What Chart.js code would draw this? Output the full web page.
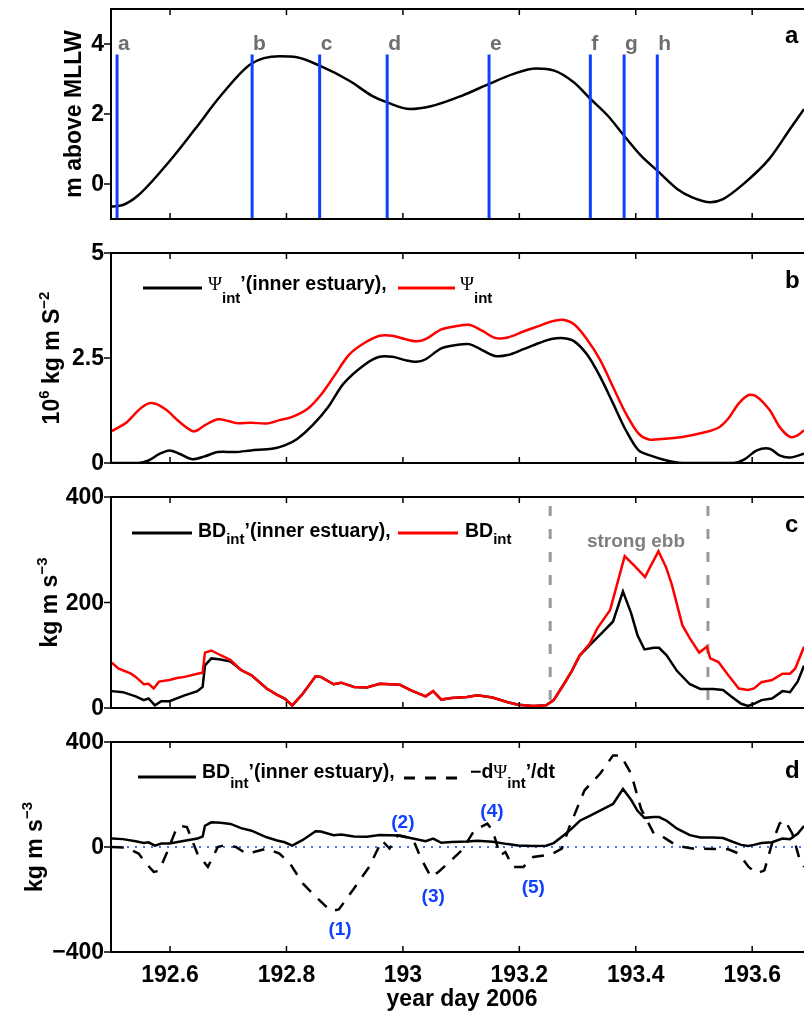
<!DOCTYPE html>
<html>
<head>
<meta charset="utf-8">
<script src="https://cdn.jsdelivr.net/npm/chart.js@4.4.1/dist/chart.umd.min.js"></script>
<style>
  html, body { margin: 0; padding: 0; background: #fff; }
  #wrap { position: relative; width: 804px; height: 1013px; overflow: hidden; }
  #wrap canvas { position: absolute; left: 0; top: 0; }
</style>
</head>
<body>
<div id="wrap">
  <canvas id="panel-a" width="804" height="1013"></canvas>
  <canvas id="panel-b" width="804" height="1013"></canvas>
  <canvas id="panel-c" width="804" height="1013"></canvas>
  <canvas id="panel-d" width="804" height="1013"></canvas>
</div>
<script>
// Shared time axis (year day 2006)
const dayMin = 192.4986;
const dayMax = 193.689;
const dayTicks = [192.6, 192.8, 193, 193.2, 193.4, 193.6];
const dayTickLabels = ['192.6', '192.8', '193', '193.2', '193.4', '193.6'];

// (a) water level, m above MLLW
const tideDay = [192.500, 192.519, 192.545, 192.598, 192.643, 192.687, 192.739, 192.788, 192.818, 192.857,
  192.908, 192.947, 192.973, 193.012, 193.048, 193.101, 193.148, 193.189, 193.229, 193.260,
  193.294, 193.321, 193.352, 193.380, 193.409, 193.437, 193.471, 193.497, 193.528, 193.550,
  193.585, 193.629, 193.665, 193.689];
const tideLevel = [-0.64, -0.60, -0.33, 0.63, 1.57, 2.52, 3.43, 3.65, 3.62, 3.38,
  2.95, 2.52, 2.33, 2.14, 2.22, 2.52, 2.86, 3.14, 3.30, 3.24,
  2.90, 2.45, 1.95, 1.38, 0.81, 0.38, -0.14, -0.38, -0.52, -0.43,
  0.00, 0.71, 1.57, 2.14];
const markDay = [192.509, 192.741, 192.857, 192.973, 193.148, 193.322, 193.380, 193.437];
const markLabels = ['a', 'b', 'c', 'd', 'e', 'f', 'g', 'h'];
const markTop = 3.7;
const levelTicks = [0, 2, 4];
const levelTickLabels = ['0', '2', '4'];

// (b) integrated potential energy anomaly, 10^6 kg m s^-2
const psiTotalDay = [192.500, 192.524, 192.546, 192.563, 192.577, 192.594, 192.616, 192.638, 192.647, 192.660,
  192.682, 192.700, 192.713, 192.739, 192.766, 192.788, 192.810, 192.837, 192.859, 192.881,
  192.907, 192.933, 192.960, 192.982, 193.004, 193.023, 193.039, 193.066, 193.092, 193.114,
  193.136, 193.158, 193.180, 193.207, 193.233, 193.255, 193.275, 193.295, 193.317, 193.339,
  193.361, 193.383, 193.405, 193.423, 193.445, 193.480, 193.515, 193.542, 193.559, 193.577,
  193.594, 193.608, 193.630, 193.647, 193.665, 193.678, 193.689];
const psiTotal = [0.76, 0.95, 1.26, 1.42, 1.40, 1.26, 0.98, 0.76, 0.78, 0.90,
  1.04, 1.00, 0.95, 0.96, 0.94, 1.02, 1.10, 1.30, 1.62, 2.05,
  2.57, 2.85, 3.03, 3.03, 2.95, 2.90, 2.95, 3.18, 3.26, 3.29,
  3.15, 2.98, 2.99, 3.13, 3.26, 3.37, 3.41, 3.29, 2.93, 2.45,
  1.81, 1.18, 0.70, 0.56, 0.57, 0.62, 0.72, 0.84, 1.06, 1.42,
  1.62, 1.58, 1.26, 0.86, 0.62, 0.66, 0.78];
const psiInnerDay = [192.500, 192.546, 192.563, 192.581, 192.599, 192.616, 192.638, 192.660, 192.682, 192.713,
  192.739, 192.775, 192.797, 192.819, 192.845, 192.872, 192.898, 192.933, 192.960, 192.982,
  193.004, 193.023, 193.039, 193.066, 193.092, 193.114, 193.136, 193.158, 193.180, 193.207,
  193.233, 193.255, 193.277, 193.295, 193.317, 193.339, 193.361, 193.383, 193.405, 193.427,
  193.453, 193.480, 193.568, 193.586, 193.608, 193.630, 193.647, 193.665, 193.689];
const psiInner = [0.00, 0.00, 0.06, 0.21, 0.30, 0.22, 0.09, 0.16, 0.26, 0.26,
  0.30, 0.34, 0.42, 0.58, 0.90, 1.34, 1.89, 2.33, 2.53, 2.53,
  2.45, 2.41, 2.47, 2.73, 2.81, 2.83, 2.69, 2.55, 2.57, 2.71,
  2.85, 2.95, 2.97, 2.89, 2.57, 2.05, 1.42, 0.78, 0.30, 0.17,
  0.06, 0.00, 0.00, 0.08, 0.30, 0.34, 0.18, 0.13, 0.22];
const psiTicks = [0, 2.5, 5];
const psiTickLabels = ['0', '2.5', '5'];

// (c) buoyancy destruction, kg m s^-3
const bdTotalDay = [192.500, 192.511, 192.533, 192.541, 192.555, 192.563, 192.572, 192.581, 192.599, 192.612,
  192.625, 192.647, 192.656, 192.660, 192.671, 192.687, 192.704, 192.722, 192.740, 192.766,
  192.784, 192.797, 192.810, 192.828, 192.850, 192.859, 192.881, 192.894, 192.916, 192.938,
  192.960, 192.995, 193.013, 193.039, 193.052, 193.066, 193.083, 193.110, 193.128, 193.154,
  193.180, 193.198, 193.224, 193.246, 193.259, 193.277, 193.290, 193.304, 193.321, 193.334,
  193.356, 193.381, 193.400, 193.416, 193.425, 193.439, 193.452, 193.462, 193.480, 193.493,
  193.509, 193.522, 193.528, 193.542, 193.559, 193.577, 193.593, 193.603, 193.616, 193.634,
  193.652, 193.665, 193.674, 193.689];
const bdTotal = [86, 75, 65, 59, 45, 46, 37, 50, 53, 57,
  59, 65, 67, 105, 109, 100, 91, 72, 62, 37,
  25, 18, 5, 27, 60, 59, 45, 48, 40, 39,
  46, 44, 34, 22, 32, 16, 19, 21, 24, 20,
  11, 6, 4, 5, 15, 46, 70, 100, 122, 151,
  186, 288, 267, 248, 268, 297, 267, 234, 157, 132,
  105, 116, 94, 87, 62, 37, 34, 37, 49, 53,
  65, 65, 75, 116];
const bdInnerDay = [192.500, 192.519, 192.541, 192.555, 192.563, 192.574, 192.585, 192.599, 192.625, 192.647,
  192.656, 192.660, 192.671, 192.687, 192.704, 192.722, 192.740, 192.766, 192.784, 192.797,
  192.810, 192.828, 192.850, 192.859, 192.881, 192.894, 192.916, 192.938, 192.960, 192.995,
  193.013, 193.039, 193.052, 193.066, 193.083, 193.110, 193.128, 193.154, 193.180, 193.198,
  193.224, 193.246, 193.259, 193.277, 193.290, 193.304, 193.321, 193.347, 193.361, 193.378,
  193.392, 193.403, 193.415, 193.431, 193.440, 193.453, 193.471, 193.493, 193.511, 193.533,
  193.550, 193.564, 193.581, 193.593, 193.603, 193.616, 193.634, 193.652, 193.665, 193.678,
  193.689];
const bdInner = [32, 30, 22, 15, 18, 5, 13, 13, 24, 32,
  40, 81, 94, 92, 88, 72, 62, 37, 25, 18,
  5, 27, 60, 59, 45, 48, 40, 39, 46, 44,
  34, 22, 32, 16, 19, 21, 24, 20, 11, 6,
  4, 5, 15, 46, 70, 100, 119, 148, 164, 221,
  180, 138, 111, 114, 114, 100, 70, 45, 36, 36,
  34, 22, 8, 4, 8, 15, 18, 32, 30, 50,
  80];
const ebbDay = [193.253, 193.524];
const ebbTop = 383;
const bdTicks = [0, 200, 400];
const bdTickLabels = ['0', '200', '400'];

// (d) -dPsi'/dt against BD', kg m s^-3
const dpsiDay = [192.500, 192.524, 192.546, 192.559, 192.572, 192.581, 192.594, 192.612, 192.621, 192.629,
  192.647, 192.665, 192.682, 192.696, 192.713, 192.731, 192.744, 192.766, 192.788, 192.806,
  192.828, 192.854, 192.876, 192.890, 192.916, 192.942, 192.964, 192.977, 192.991, 193.004,
  193.017, 193.030, 193.048, 193.061, 193.083, 193.101, 193.123, 193.145, 193.154, 193.167,
  193.176, 193.189, 193.207, 193.224, 193.242, 193.259, 193.273, 193.286, 193.312, 193.339,
  193.361, 193.374, 193.392, 193.409, 193.431, 193.445, 193.471, 193.497, 193.559, 193.577,
  193.594, 193.608, 193.621, 193.634, 193.647, 193.656, 193.669, 193.682, 193.689];
const dpsi = [0, -2, -25, -63, -95, -91, -25, 76, 79, 76,
  -25, -76, 0, 8, 0, -25, -19, -6, -25, -63,
  -139, -197, -244, -238, -158, -76, 25, -6, 44, 38,
  32, -38, -114, -95, -51, -13, 64, 89, 64, -32,
  -19, -76, -76, -38, -32, -23, -6, 76, 216, 280,
  349, 349, 280, 146, 51, 41, 4, -6, -9, -25,
  -76, -101, -89, 13, 89, 102, 51, -51, -76];
const eventLabels = ['(1)', '(2)', '(3)', '(4)', '(5)'];
const eventDay = [192.892, 193.000, 193.052, 193.153, 193.224];
const eventValue = [-317, 94, -188, 134, -157];
const balanceTicks = [-400, 0, 400];
const balanceTickLabels = ['\u2212400', '0', '400'];

// Fonts
const SANS = '"Liberation Sans", Arial, Helvetica, sans-serif';
const TICK_FONT = `bold 23px ${SANS}`;
const TITLE_FONT = `bold 23px ${SANS}`;
const SUPER_FONT = `bold 15px ${SANS}`;
const LEG_FONT = `bold 19.5px ${SANS}`;
const SUB_FONT = `bold 15px ${SANS}`;
const GREEK_FONT = '19px "Liberation Serif", "DejaVu Serif", serif';
const LETTER_FONT = `bold 24px ${SANS}`;
const MARK_FONT = `bold 21px ${SANS}`;
const NOTE_FONT = `bold 19px ${SANS}`;

const BLUE = '#1040ff';
const RED = '#ff0000';

function pts(xs, ys) {
  return xs.map((x, i) => ({ x, y: ys[i] }));
}

function richWidth(ctx, parts) {
  let w = 0;
  parts.forEach(p => {
    ctx.font = p.f;
    w += ctx.measureText(p.t).width;
  });
  return w;
}

function drawRich(ctx, parts, x, y) {
  let cx = x;
  parts.forEach(p => {
    ctx.font = p.f;
    ctx.fillText(p.t, cx, y + (p.dy || 0));
    cx += ctx.measureText(p.t).width;
  });
}

// Per-panel furniture: ticks, titles, legends, notes
const panelSetup = {
  'panel-a': {
    top: 9, bottom: 219, yMin: -1, yMax: 5,
    yTicks: levelTicks, yTickLabels: levelTickLabels,
    title: [{ t: 'm above MLLW', f: TITLE_FONT }], titleX: 81,
    letter: 'a', letterY: 43
  },
  'panel-b': {
    top: 253, bottom: 463, yMin: 0, yMax: 5,
    yTicks: psiTicks, yTickLabels: psiTickLabels,
    title: [
      { t: '10', f: TITLE_FONT }, { t: '6', f: SUPER_FONT, dy: -10 },
      { t: ' kg m S', f: TITLE_FONT }, { t: '\u22122', f: SUPER_FONT, dy: -10 }
    ], titleX: 59,
    letter: 'b', letterY: 288,
    legend: [
      { x1: 143, x2: 202, y: 288, color: '#000' },
      { x: 208, y: 290, parts: [
        { t: '\u03a8', f: GREEK_FONT }, { t: 'int', f: SUB_FONT, dy: 13 },
        { t: '\u2019(inner estuary),', f: LEG_FONT }] },
      { x1: 398, x2: 455, y: 288, color: RED },
      { x: 460, y: 290, parts: [
        { t: '\u03a8', f: GREEK_FONT }, { t: 'int', f: SUB_FONT, dy: 13 }] }
    ]
  },
  'panel-c': {
    top: 497, bottom: 708, yMin: 0, yMax: 400,
    yTicks: bdTicks, yTickLabels: bdTickLabels,
    title: [{ t: 'kg m s', f: TITLE_FONT }, { t: '\u22123', f: SUPER_FONT, dy: -10 }], titleX: 57,
    letter: 'c', letterY: 532,
    legend: [
      { x1: 132, x2: 192, y: 533, color: '#000' },
      { x: 198, y: 537, parts: [
        { t: 'BD', f: LEG_FONT }, { t: 'int', f: SUB_FONT, dy: 7 },
        { t: '\u2019(inner estuary),', f: LEG_FONT }] },
      { x1: 398, x2: 458, y: 533, color: RED },
      { x: 465, y: 537, parts: [{ t: 'BD', f: LEG_FONT }, { t: 'int', f: SUB_FONT, dy: 7 }] }
    ],
    notes: [{ t: 'strong ebb', f: NOTE_FONT, x: 636, y: 547, color: '#7f7f7f' }]
  },
  'panel-d': {
    top: 742, bottom: 952, yMin: -400, yMax: 400,
    yTicks: balanceTicks, yTickLabels: balanceTickLabels,
    title: [{ t: 'kg m s', f: TITLE_FONT }, { t: '\u22123', f: SUPER_FONT, dy: -10 }], titleX: 42,
    letter: 'd', letterY: 778, xLabels: true,
    legend: [
      { x1: 138, x2: 196, y: 777, color: '#000' },
      { x: 202, y: 778, parts: [
        { t: 'BD', f: LEG_FONT }, { t: 'int', f: SUB_FONT, dy: 10 },
        { t: '\u2019(inner estuary),', f: LEG_FONT }] },
      { x1: 404, x2: 462, y: 778, color: '#000', dash: [11, 10] },
      { x: 470, y: 778, parts: [
        { t: '\u2212d', f: LEG_FONT }, { t: '\u03a8', f: GREEK_FONT }, { t: 'int', f: SUB_FONT, dy: 10 },
        { t: '\u2019/dt', f: LEG_FONT }] }
    ]
  }
};

const panelDecor = {
  id: 'panelDecor',
  afterDatasetsDraw(chart) {
    const cfg = panelSetup[chart.canvas.id];
    const { ctx, chartArea: area } = chart;
    const xs = chart.scales.x, ys = chart.scales.y;
    ctx.save();
    ctx.textBaseline = 'alphabetic';

    // tide phase markers
    if (cfg.letter === 'a') {
      ctx.font = MARK_FONT;
      ctx.fillStyle = '#6e6e6e';
      ctx.textAlign = 'left';
      markDay.forEach((d, i) => ctx.fillText(markLabels[i], xs.getPixelForValue(d) + 1, 50));
    }

    // event numbers in panel d
    if (cfg.letter === 'd') {
      ctx.font = NOTE_FONT;
      ctx.fillStyle = BLUE;
      ctx.textAlign = 'center';
      ctx.textBaseline = 'middle';
      eventLabels.forEach((s, i) => ctx.fillText(s, xs.getPixelForValue(eventDay[i]), ys.getPixelForValue(eventValue[i])));
      ctx.textBaseline = 'alphabetic';
    }

    (cfg.notes || []).forEach(n => {
      ctx.font = n.f;
      ctx.fillStyle = n.color;
      ctx.textAlign = 'center';
      ctx.fillText(n.t, n.x, n.y);
    });

    // legend
    ctx.textAlign = 'left';
    (cfg.legend || []).forEach(item => {
      if (item.parts) {
        ctx.fillStyle = '#000';
        drawRich(ctx, item.parts, item.x, item.y);
      } else {
        ctx.strokeStyle = item.color;
        ctx.lineWidth = 3;
        ctx.setLineDash(item.dash || []);
        ctx.beginPath();
        ctx.moveTo(item.x1, item.y);
        ctx.lineTo(item.x2, item.y);
        ctx.stroke();
        ctx.setLineDash([]);
      }
    });

    // axes box: x ticks point in, y ticks point out
    ctx.strokeStyle = '#000';
    ctx.lineWidth = 2;
    ctx.beginPath();
    ctx.moveTo(area.right + 4, area.top);
    ctx.lineTo(area.left, area.top);
    ctx.lineTo(area.left, area.bottom);
    ctx.lineTo(area.right + 4, area.bottom);
    ctx.stroke();
    ctx.lineWidth = 1.5;
    ctx.beginPath();
    dayTicks.forEach(t => {
      const px = xs.getPixelForValue(t);
      ctx.moveTo(px, area.bottom);
      ctx.lineTo(px, area.bottom - 6);
      ctx.moveTo(px, area.top);
      ctx.lineTo(px, area.top + 6);
    });
    cfg.yTicks.forEach(t => {
      const py = ys.getPixelForValue(t);
      ctx.moveTo(area.left, py);
      ctx.lineTo(area.left - 7, py);
    });
    ctx.stroke();

    // tick labels
    ctx.fillStyle = '#000';
    ctx.font = TICK_FONT;
    ctx.textAlign = 'right';
    ctx.textBaseline = 'middle';
    cfg.yTicks.forEach((t, i) => ctx.fillText(cfg.yTickLabels[i], 104, ys.getPixelForValue(t) + 1));
    if (cfg.xLabels) {
      ctx.textAlign = 'center';
      ctx.textBaseline = 'alphabetic';
      dayTicks.forEach((t, i) => ctx.fillText(dayTickLabels[i], xs.getPixelForValue(t), 982));
      ctx.font = TITLE_FONT;
      ctx.fillText('year day 2006', 462, 1006);
    }

    // panel letter
    ctx.textAlign = 'left';
    ctx.textBaseline = 'alphabetic';
    ctx.font = LETTER_FONT;
    ctx.fillText(cfg.letter, 785, cfg.letterY);

    // rotated y title
    const w = richWidth(ctx, cfg.title);
    ctx.translate(cfg.titleX, (area.top + area.bottom) / 2);
    ctx.rotate(-Math.PI / 2);
    drawRich(ctx, cfg.title, -w / 2, 0);
    ctx.restore();
  }
};

function lineSet(data, color, extra) {
  return Object.assign({
    data, borderColor: color, borderWidth: 2.5, pointRadius: 0, tension: 0, fill: false
  }, extra || {});
}

function makePanel(id, datasets) {
  const cfg = panelSetup[id];
  return new Chart(document.getElementById(id), {
    type: 'line',
    data: { datasets },
    options: {
      responsive: false,
      animation: false,
      events: [],
      layout: { padding: { left: 111, right: 0, top: cfg.top, bottom: 1013 - cfg.bottom } },
      scales: {
        x: { type: 'linear', min: dayMin, max: dayMax, display: false },
        y: { type: 'linear', min: cfg.yMin, max: cfg.yMax, display: false }
      },
      plugins: { legend: { display: false }, tooltip: { enabled: false } }
    },
    plugins: [panelDecor]
  });
}

// (a) tide with phase markers on top
const markSets = markDay.map(d =>
  lineSet([{ x: d, y: -1 }, { x: d, y: markTop }], BLUE, { borderWidth: 3, order: 0 }));
makePanel('panel-a', [
  ...markSets,
  lineSet(pts(tideDay, tideLevel), '#000', { cubicInterpolationMode: 'monotone', order: 1 })
]);

// (b)
makePanel('panel-b', [
  lineSet(pts(psiTotalDay, psiTotal), RED, { tension: 0.3, order: 0 }),
  lineSet(pts(psiInnerDay, psiInner), '#000', { tension: 0.3, order: 1 })
]);

// (c) strong ebb window marked with dashed lines
makePanel('panel-c', [
  lineSet(pts(bdTotalDay, bdTotal), RED, { order: 0 }),
  lineSet(pts(bdInnerDay, bdInner), '#000', { order: 1 }),
  ...ebbDay.map(d => lineSet([{ x: d, y: ebbTop }, { x: d, y: 0 }], '#999999',
    { borderWidth: 3, borderDash: [10, 13], order: 2 }))
]);

// (d) balance of -dPsi'/dt and BD'
makePanel('panel-d', [
  lineSet(pts(dpsiDay, dpsi), '#000', { borderDash: [12, 10], order: 0 }),
  lineSet(pts(bdInnerDay, bdInner), '#000', { order: 1 }),
  lineSet([{ x: dayMin, y: 0 }, { x: dayMax, y: 0 }], BLUE, { borderWidth: 1.5, borderDash: [2, 6], order: 2 })
]);
</script>
</body>
</html>
